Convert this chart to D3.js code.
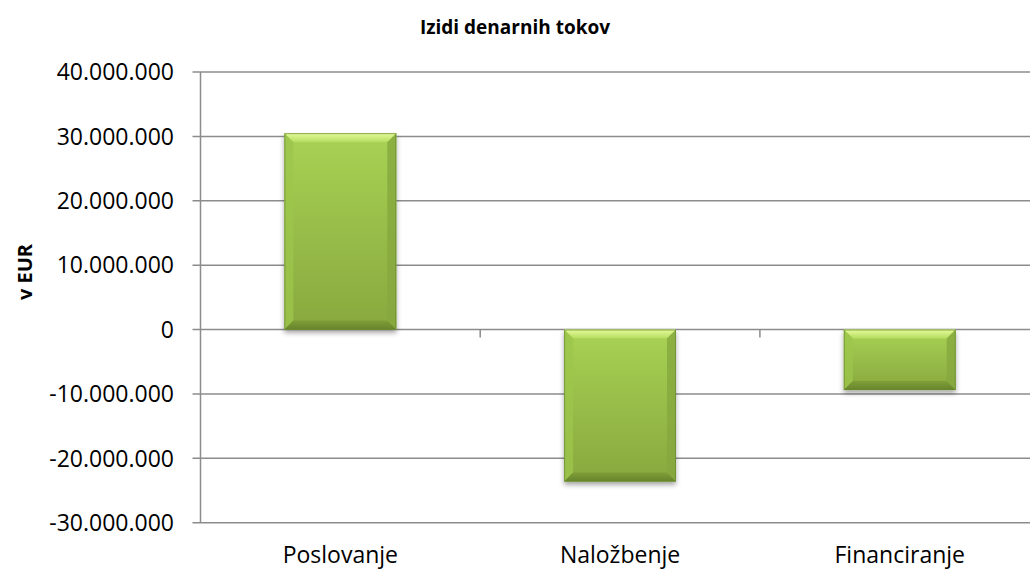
<!DOCTYPE html>
<html>
<head>
<meta charset="utf-8">
<script src="https://cdn.jsdelivr.net/npm/d3@7"></script>
<style>
  html, body { margin: 0; padding: 0; background: #fff; }
  svg { display: block; font-family: "Open Sans", "Noto Sans", sans-serif; }
</style>
</head>
<body>
<svg id="chart" width="1030" height="569"></svg>
<script>
const categories = ["Poslovanje", "Naložbenje", "Financiranje"];
const values = [30500000, -23600000, -9400000];
const yTicks = [-30000000, -20000000, -10000000, 0, 10000000, 20000000, 30000000, 40000000];
const chartTitle = "Izidi denarnih tokov";
const yAxisTitle = "v EUR";

const svg = d3.select("#chart");
const W = 1030, H = 569;
const plot = { left: 200.5, top: 72, bottom: 522.7, right: 1039.6 };

const y = d3.scaleLinear().domain([-30000000, 40000000]).range([plot.bottom, plot.top]);
const x = d3.scaleBand().domain(categories).range([plot.left, plot.right])
  .paddingInner(0.6).paddingOuter(0.3);

const fmt = v => {
  const s = d3.format(",")(Math.abs(v)).replace(/,/g, ".");
  return (v < 0 ? "-" : "") + s;
};

const defs = svg.append("defs");
const bodyGrad = defs.append("linearGradient").attr("id", "bodyGrad")
  .attr("x1", 0).attr("y1", 0).attr("x2", 0).attr("y2", 1);
bodyGrad.append("stop").attr("offset", "0%").attr("stop-color", "#a8d254");
bodyGrad.append("stop").attr("offset", "100%").attr("stop-color", "#88a83e");
const topGrad = defs.append("linearGradient").attr("id", "topGrad")
  .attr("x1", 0).attr("y1", 0).attr("x2", 0).attr("y2", 1);
topGrad.append("stop").attr("offset", "0%").attr("stop-color", "#e6fb9c");
topGrad.append("stop").attr("offset", "100%").attr("stop-color", "#b4dc5e");
const botGrad = defs.append("linearGradient").attr("id", "botGrad")
  .attr("x1", 0).attr("y1", 0).attr("x2", 0).attr("y2", 1);
botGrad.append("stop").attr("offset", "0%").attr("stop-color", "#7f9e38");
botGrad.append("stop").attr("offset", "100%").attr("stop-color", "#66842b");

const shadow = defs.append("filter").attr("id", "shadow")
  .attr("x", "-20%").attr("y", "-20%").attr("width", "140%").attr("height", "140%");
shadow.append("feDropShadow").attr("dx", 0).attr("dy", 3).attr("stdDeviation", 2.5)
  .attr("flood-color", "#000").attr("flood-opacity", 0.35);

// gridlines
svg.append("g").selectAll("line").data(yTicks).join("line")
  .attr("x1", plot.left - 8).attr("x2", plot.right)
  .attr("y1", d => y(d)).attr("y2", d => y(d))
  .attr("stroke", "#8c8c8c").attr("stroke-width", 1.5);

// y axis line
svg.append("line")
  .attr("x1", plot.left).attr("x2", plot.left)
  .attr("y1", plot.top).attr("y2", plot.bottom)
  .attr("stroke", "#8c8c8c").attr("stroke-width", 1.5);

// category ticks on zero line
const bounds = [1, 2].map(i => plot.left + i * x.step());
svg.append("g").selectAll("line").data(bounds).join("line")
  .attr("x1", d => d).attr("x2", d => d)
  .attr("y1", y(0)).attr("y2", y(0) + 8)
  .attr("stroke", "#8c8c8c").attr("stroke-width", 1.5);

// bars
const b = 9;
const bars = svg.append("g").selectAll("g").data(categories).join("g")
  .attr("filter", "url(#shadow)");
bars.each(function(c, i) {
  const v = values[i];
  const x0 = x(c), w = x.bandwidth();
  const y0 = y(Math.max(0, v)), h = Math.abs(y(v) - y(0));
  const g = d3.select(this);
  g.append("rect").attr("x", x0).attr("y", y0).attr("width", w).attr("height", h)
    .attr("fill", "url(#bodyGrad)");
  const x1 = x0 + w, y1 = y0 + h;
  const bb = Math.min(b, h / 2, w / 2);
  const poly = (pts, fill, op) => g.append("polygon")
    .attr("points", pts.map(p => p.join(",")).join(" "))
    .attr("fill", fill).attr("opacity", op);
  poly([[x0, y0], [x1, y0], [x1 - bb, y0 + bb], [x0 + bb, y0 + bb]], "url(#topGrad)", 1);
  poly([[x0, y0], [x0 + bb, y0 + bb], [x0 + bb, y1 - bb], [x0, y1]], "#9cc64c", 0.8);
  poly([[x1, y0], [x1, y1], [x1 - bb, y1 - bb], [x1 - bb, y0 + bb]], "#86a83e", 0.8);
  poly([[x0, y1], [x0 + bb, y1 - bb], [x1 - bb, y1 - bb], [x1, y1]], "url(#botGrad)", 1);
  g.append("rect").attr("x", x0 + 0.5).attr("y", y0 + 0.5).attr("width", w - 1).attr("height", h - 1)
    .attr("fill", "none").attr("stroke", "#6a8a2f").attr("stroke-width", 1).attr("opacity", 0.7);
});

// y tick labels
svg.append("g").selectAll("text").data(yTicks).join("text")
  .attr("x", 174).attr("y", d => y(d) + 8.3)
  .attr("text-anchor", "end")
  .attr("font-size", 23).attr("fill", "#000")
  .text(d => fmt(d));

// category labels
svg.append("g").selectAll("text").data(categories).join("text")
  .attr("x", d => x(d) + x.bandwidth() / 2).attr("y", 563)
  .attr("text-anchor", "middle")
  .attr("font-size", 23).attr("fill", "#000")
  .text(d => d);

// title
svg.append("text").attr("x", 515).attr("y", 34)
  .attr("text-anchor", "middle").attr("font-size", 19).attr("font-weight", "bold")
  .text(chartTitle);

// y axis title
svg.append("text")
  .attr("transform", "translate(32,272) rotate(-90)")
  .attr("text-anchor", "middle").attr("font-size", 20).attr("font-weight", "bold")
  .text(yAxisTitle);
</script>
</body>
</html>
